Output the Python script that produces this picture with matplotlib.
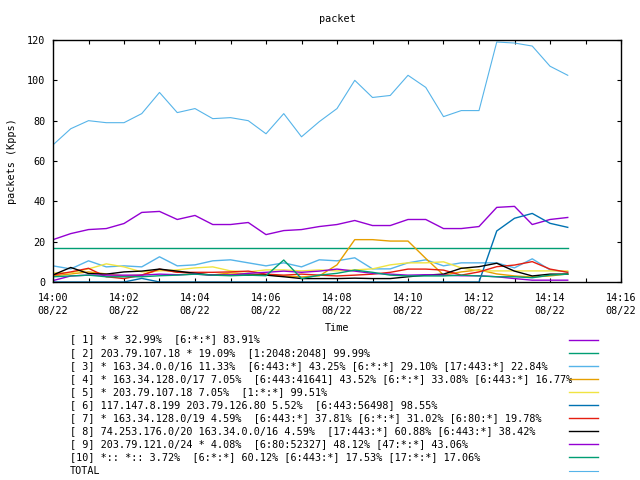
import numpy as np
import pandas as pd
import matplotlib
matplotlib.use('Agg')
import matplotlib.pyplot as plt
import matplotlib.dates as mdates
from matplotlib.lines import Line2D

plt.rcParams['font.family'] = 'DejaVu Sans Mono'
plt.rcParams['font.size'] = 7.3

# sample times, one every 30 s
times = pd.date_range('2024-08-22 14:00:00', periods=30, freq='30s')

s1 = [21, 24, 26, 26.5, 29, 34.5, 35, 31, 33, 28.5, 28.5, 29.5, 23.5, 25.5, 26,
      27.5, 28.5, 30.5, 28, 28, 31, 31, 26.5, 26.5, 27.5, 37, 37.5, 28.5, 31, 32]
s2 = [16.7, 16.7, 16.7, 16.7, 16.7, 16.7, 16.7, 16.7, 16.7, 16.7, 16.7, 16.7, 16.7, 16.7, 16.7,
      16.7, 16.7, 16.7, 16.7, 16.7, 16.7, 16.7, 16.7, 16.7, 16.7, 16.7, 16.7, 16.7, 16.7, 16.7]
s3 = [8, 6.5, 10.5, 7.5, 8, 7.5, 12.5, 8, 8.5, 10.5, 11, 9.5, 8, 9.5, 7.5,
      11, 10.5, 12, 6.5, 6.5, 9.5, 11, 8, 9.5, 9.5, 9.5, 7, 11.5, 6, 5]
s4 = [3, 4, 5, 4, 3, 3.5, 6, 5, 4, 3.5, 4.5, 4, 3.5, 3, 2.5,
      3, 8.5, 21, 21, 20.3, 20.3, 11.7, 3.5, 5, 6, 4, 3, 2.5, 3, 4]
s5 = [4.5, 4.5, 6.5, 9, 7.5, 5, 5.5, 6, 7, 7.5, 5.5, 5, 6, 6, 5.5,
      6, 5.5, 6, 6.5, 8.5, 9.5, 9.5, 10, 7, 5.5, 5.5, 5.5, 5.5, 5.5, 5.5]
s6 = [0, 0, 0, 0, 0, 1.8, 0, 0, 0, 0, 0, 0, 0, 0, 0,
      0, 0, 0, 0, 0, 0, 0, 0, 0, 0, 25.3, 31.6, 34, 29.1, 27.1]
s7 = [3.5, 5, 6.8, 2.6, 1.7, 3.4, 6.4, 4.8, 4.8, 4.8, 5, 5.4, 3.9, 3.4, 3.9,
      3.4, 3, 3.4, 3.9, 4.8, 6.4, 6.4, 5.9, 3.4, 5, 7.6, 8.4, 10.1, 6.4, 4.8]
s8 = [3.5, 7.2, 4.2, 3.9, 5, 5.4, 6.4, 5.4, 4.3, 3.4, 3.4, 3.4, 3.4, 2.6, 1.7,
      1.7, 1.7, 1.9, 1.7, 1.7, 2.6, 3.4, 3.9, 6.8, 7.6, 9.3, 5.4, 3, 3.9, 3.9]
s9 = [0.7, 3, 3.4, 3.4, 3.4, 3.4, 3.9, 3.6, 3.9, 3.4, 3.4, 4.3, 4.8, 5.4, 4.8,
      5.4, 6.4, 5.4, 4.3, 3.9, 3.4, 3.6, 3.4, 3.1, 3.1, 2.6, 1.7, 0.9, 0.9, 0.9]
s10 = [2.6, 3, 3.4, 2.6, 2.6, 2.6, 3.1, 3.4, 3.9, 3.4, 3.1, 3.4, 3.1, 10.9, 1.7,
       3.4, 4.3, 5.9, 4.8, 3.4, 3, 3, 3, 3.4, 3, 2.6, 2.6, 2.1, 3.4, 3.9]
total = [68, 76, 80, 79, 79, 83.5, 94, 84, 86, 81, 81.5, 80, 73.5, 83.5, 72,
         79.5, 86, 100, 91.5, 92.5, 102.5, 96.5, 82, 85, 85, 119, 118.5, 117, 107, 102.5]

labels = [
    "[ 1] * * 32.99%  [6:*:*] 83.91%",
    "[ 2] 203.79.107.18 * 19.09%  [1:2048:2048] 99.99%",
    "[ 3] * 163.34.0.0/16 11.33%  [6:443:*] 43.25% [6:*:*] 29.10% [17:443:*] 22.84%",
    "[ 4] * 163.34.128.0/17 7.05%  [6:443:41641] 43.52% [6:*:*] 33.08% [6:443:*] 16.77%",
    "[ 5] * 203.79.107.18 7.05%  [1:*:*] 99.51%",
    "[ 6] 117.147.8.199 203.79.126.80 5.52%  [6:443:56498] 98.55%",
    "[ 7] * 163.34.128.0/19 4.59%  [6:443:*] 37.81% [6:*:*] 31.02% [6:80:*] 19.78%",
    "[ 8] 74.253.176.0/20 163.34.0.0/16 4.59%  [17:443:*] 60.88% [6:443:*] 38.42%",
    "[ 9] 203.79.121.0/24 * 4.08%  [6:80:52327] 48.12% [47:*:*] 43.06%",
    "[10] *:: *:: 3.72%  [6:*:*] 60.12% [6:443:*] 17.53% [17:*:*] 17.06%",
    "TOTAL",
]
series = [s1, s2, s3, s4, s5, s6, s7, s8, s9, s10, total]
colors = ['#9400d3', '#009e73', '#56b4e9', '#e69f00', '#f0e442', '#0072b2',
          '#e51e10', '#000000', '#9400d3', '#009e73', '#56b4e9']


def main():
    fig = plt.figure(figsize=(6.4, 4.8), dpi=100, facecolor='white')
    ax = fig.add_axes([53/640, 1 - 282/480, 568/640, 242/480])

    for i, (vals, c) in enumerate(zip(series, colors)):
        lw = 0.8 if i == len(series) - 1 else 1.0
        ax.plot(times, vals, color=c, lw=lw)

    ax.set_ylim(0, 120)
    ax.set_yticks(range(0, 121, 20))
    ax.set_xlim(pd.Timestamp('2024-08-22 14:00'), pd.Timestamp('2024-08-22 14:16'))
    ax.xaxis.set_major_locator(mdates.MinuteLocator(byminute=range(0, 60, 2)))
    ax.xaxis.set_minor_locator(mdates.MinuteLocator())
    ax.xaxis.set_major_formatter(mdates.DateFormatter('%H:%M\n%m/%d'))
    for lab in ax.get_xticklabels():
        lab.set_linespacing(1.35)

    ax.tick_params(which='both', direction='in', top=True, right=True,
                   length=3, width=0.8, labelsize=7.3)
    ax.tick_params(axis='x', pad=8)
    ax.tick_params(axis='y', pad=5.5)
    for sp in ax.spines.values():
        sp.set_linewidth(1.0)
        sp.set_zorder(5)

    fig.text(337/640, 1 - 19/480, 'packet', ha='center', va='center')
    fig.text(12/640, 1 - 161/480, 'packets (Kpps)', ha='center', va='center', rotation=90)
    fig.text(337/640, 1 - 328/480, 'Time', ha='center', va='center')

    # key below the plot: text on the left, line sample on the right
    for i, (lab, c) in enumerate(zip(labels, colors)):
        y = 1 - (339.5 + i * 13.1) / 480
        fig.text(70/640, y, lab, ha='left', va='center')
        lw = 0.8 if i == len(labels) - 1 else 1.0
        fig.add_artist(Line2D([569/640, 598/640], [y, y], color=c, lw=lw,
                              transform=fig.transFigure))

    fig.savefig('out.png', dpi=100, facecolor='white')


if __name__ == '__main__':
    main()
